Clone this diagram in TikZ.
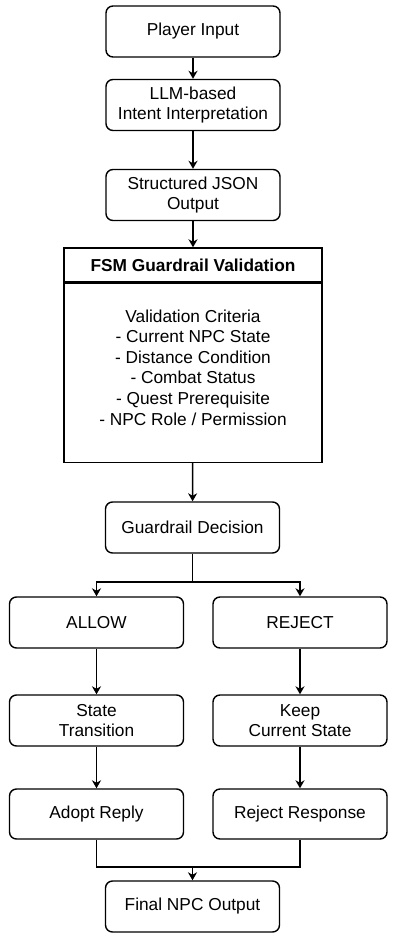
\documentclass[tikz,border=0pt]{standalone}
\usepackage{fontspec}
\setmainfont{Liberation Sans}
\usetikzlibrary{arrows.meta,positioning}

\tikzset{
  box/.style={draw, rounded corners=7pt, line width=1.4pt, minimum width=174pt,
    minimum height=51pt, align=center, inner sep=2pt},
  fsmbox/.style={draw, line width=1.4pt, minimum width=258pt, align=center, inner sep=2pt},
  arr/.style={-{Stealth[length=8pt, width=9pt, inset=2.5pt]}, line width=1.5pt},
  link/.style={line width=1.5pt}
}

\begin{document}
\begin{tikzpicture}[x=1pt, y=-1pt, font=\fontsize{17.3}{20.6}\selectfont]

  \useasboundingbox (0, 0) rectangle (404, 944);

  \node[box] (input) at (193, 31.5) {Player Input};
  \node[box] (llm) at (193, 105) {LLM-based\\Intent Interpretation};
  \node[box] (json) at (193, 195) {Structured JSON\\Output};

  \node[fsmbox, minimum height=34pt, font=\fontsize{17.3}{20.6}\selectfont\bfseries] (fsmhead) at (193, 265) {FSM Guardrail Validation};
  \node[fsmbox, minimum height=179pt, below=0pt of fsmhead] (fsm) {};
  \node[align=center] (criteria) at (193, 367.5) {Validation Criteria\\- Current NPC State\\- Distance Condition\\- Combat Status\\- Quest Prerequisite\\- NPC Role / Permission};

  \node[box] (decision) at (192.5, 527.5) {Guardrail Decision};

  \node[box] (allow) at (96.5, 622.5) {ALLOW};
  \node[box] (reject) at (300, 622.5) {REJECT};
  \node[box] (trans) at (96.5, 720.5) {State\\Transition};
  \node[box] (keep) at (300, 720.5) {Keep\\Current State};
  \node[box, minimum height=50pt] (adopt) at (96.5, 814) {Adopt Reply};
  \node[box, minimum height=50pt] (rejresp) at (300, 814) {Reject Response};

  \node[box] (final) at (192.5, 906.5) {Final NPC Output};

  \coordinate (split) at (192.5, 582);
  \coordinate (merge) at (192.5, 867);

  \draw[arr] (input) -- (llm);
  \draw[arr] (llm) -- (json);
  \draw[arr] (json) -- (fsmhead);
  \draw[arr] (fsm) -- (decision);

  \draw[link] (decision) -- (split);
  \draw[arr] (split) -| (allow);
  \draw[arr] (split) -| (reject);

  \draw[arr] (allow) -- (trans);
  \draw[arr] (trans) -- (adopt);
  \draw[arr] (reject) -- (keep);
  \draw[arr] (keep) -- (rejresp);

  \draw[link] (adopt) |- (merge);
  \draw[link] (rejresp) |- (merge);
  \draw[arr] (merge) -- (final);

\end{tikzpicture}
\end{document}
